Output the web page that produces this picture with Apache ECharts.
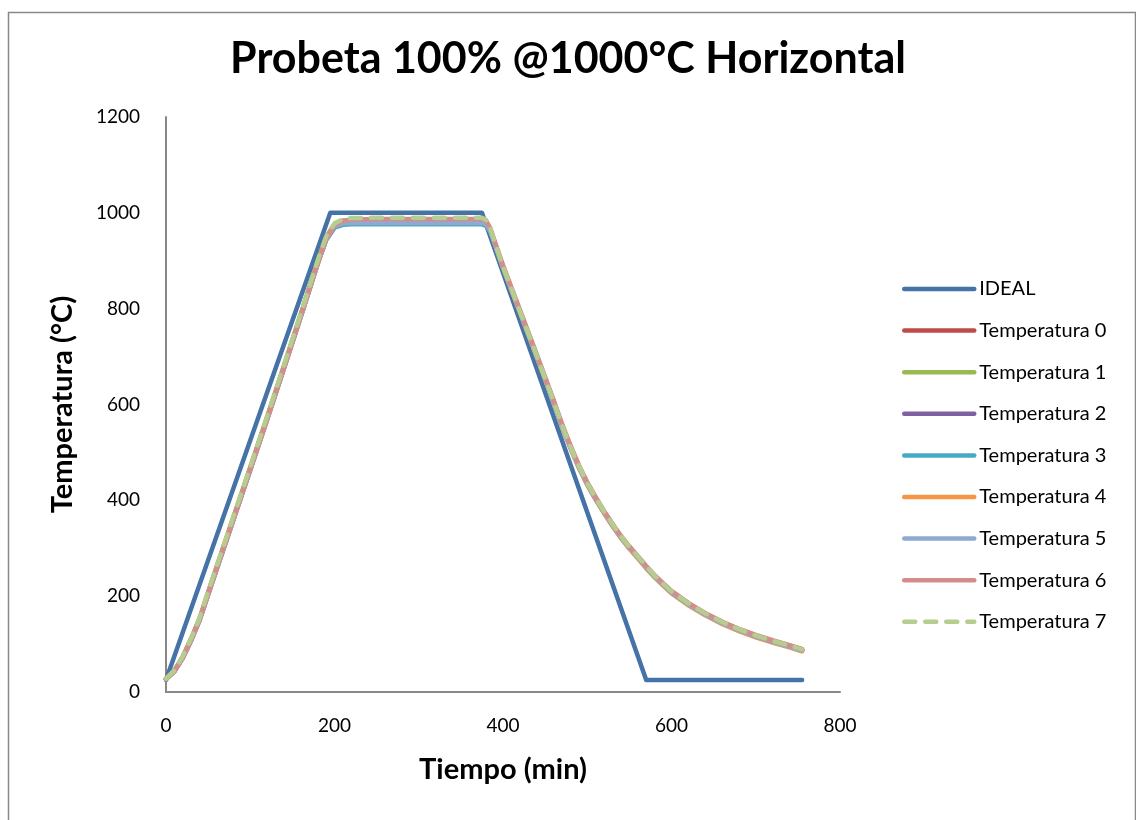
<!DOCTYPE html>
<html>
<head>
<meta charset="utf-8">
<script src="https://cdn.jsdelivr.net/npm/echarts@6/dist/echarts.min.js"></script>
<style>
html,body{margin:0;padding:0;background:#fff;}
#chart{width:1136px;height:820px;}
</style>
</head>
<body>
<div id="chart"></div>
<script>
// ---- Data ----
var titleText = 'Probeta 100% @1000°C Horizontal';
var xName = 'Tiempo (min)';
var yName = 'Temperatura (°C)';

var idealTime = [0, 195, 375, 570, 755];
var idealTemp = [25, 1000, 1000, 25, 25];

var time = [0,10,20,30,40,50,60,80,100,120,140,160,180,190,200,210,220,250,300,350,375,380,385,390,400,420,440,460,470,480,490,500,510,520,530,540,550,560,570,580,590,600,620,640,660,680,700,720,740,755];

var temp0 = [27,44,73,111,153,207,259,363,467,572,679,787,897,948,975,981,982,982,982,982,982,979,964,938,887,795,702,607,557,512,471,435,404,376,349,324,302,282,261,242,225,209,184,163,145,130,117,106,96,88];
var temp1 = [28,45,74,112,154,208,261,365,469,574,681,789,899,949,976,984,984,984,984,984,984,980,966,939,888,796,703,608,558,513,472,436,405,377,350,325,303,283,262,243,226,210,185,164,146,131,118,107,97,89];
var temp2 = [27,43,72,109,151,204,256,360,464,569,676,784,894,944,970,976,978,978,978,978,978,975,962,937,886,794,701,606,556,511,470,434,403,375,348,323,301,281,260,241,224,208,183,162,144,129,116,105,95,87];
var temp3 = [27,43,71,108,150,203,255,359,463,568,675,783,893,943,969,975,976,976,976,976,976,973,960,935,885,793,700,605,555,510,469,433,402,374,347,322,300,280,259,240,223,207,182,161,143,128,115,104,94,86];
var temp4 = [28,45,74,112,154,208,260,364,468,573,680,788,898,948,974,979,980,980,980,980,980,977,963,937,885,792,699,604,554,509,468,432,401,373,346,321,299,279,258,239,222,206,181,160,142,127,114,103,93,85];
var temp5 = [27,44,73,110,152,206,258,362,466,571,678,786,896,946,972,978,979,979,979,979,979,976,962,937,886,794,701,606,556,511,470,434,403,375,348,323,301,281,260,241,224,208,183,162,144,129,116,105,95,87];
var temp6 = [27,43,71,108,150,203,255,359,463,568,675,783,893,944,974,983,986,987,987,987,987,983,968,942,891,798,705,610,560,515,474,438,407,378,351,326,304,284,263,244,227,211,186,165,147,132,119,108,98,90];
var temp7 = [28,45,75,113,155,210,262,366,470,575,682,790,900,950,978,987,989,990,990,990,990,985,968,940,888,795,702,607,557,512,472,436,405,377,350,325,303,283,262,243,226,210,185,164,146,131,118,107,97,89];

var seriesNames = ['IDEAL','Temperatura 0','Temperatura 1','Temperatura 2','Temperatura 3','Temperatura 4','Temperatura 5','Temperatura 6','Temperatura 7'];
var seriesColors = ['#4572A7','#BE4B48','#98B954','#7D60A0','#46AAC5','#F69545','#8EA9D2','#D58D8B','#B5CD8F'];
var xTicks = [0, 800, 200];
var yTicks = [0, 1200, 200];

var tempSets = [temp0,temp1,temp2,temp3,temp4,temp5,temp6,temp7];

function pairs(xs, ys){ return xs.map(function(x,i){ return [x, ys[i]]; }); }

var FONT = 'Lato';

var series = [{
  name: seriesNames[0], type: 'line', data: pairs(idealTime, idealTemp),
  symbol: 'none', lineStyle: {color: seriesColors[0], width: 4.5, cap: 'round', join: 'round'},
  itemStyle: {color: seriesColors[0]}
}];
tempSets.forEach(function(arr, i){
  series.push({
    name: seriesNames[i+1], type: 'line', data: pairs(time, arr),
    symbol: 'none', smooth: false,
    lineStyle: {color: seriesColors[i+1], width: 4.5, cap: 'round', join: 'round',
      type: i === 7 ? [11, 10] : 'solid'},
    itemStyle: {color: seriesColors[i+1]}
  });
});

var chart = echarts.init(document.getElementById('chart'), null, {renderer: 'canvas'});
chart.setOption({
  animation: false,
  backgroundColor: '#fff',
  textStyle: {fontFamily: FONT},
  graphic: [{
    type: 'rect', left: 6, top: 10, z: -1,
    shape: {x: 0, y: 0, width: 1127, height: 830},
    style: {fill: 'none', stroke: '#888', lineWidth: 1.5}
  }],
  title: {
    text: titleText, left: 'center', top: 33,
    textStyle: {fontFamily: FONT, fontSize: 43, fontWeight: 'bold', color: '#000'}
  },
  legend: {
    orient: 'vertical', left: 897, top: 274,
    itemWidth: 70, itemHeight: 14, itemGap: 21.6,
    itemStyle: {opacity: 0},
    lineStyle: {width: 4.5, cap: 'round'},
    textStyle: {fontFamily: FONT, fontSize: 20, color: '#000', lineHeight: 20},
    data: seriesNames
  },
  grid: {left: 166, right: 296, top: 117, bottom: 128, containLabel: false},
  xAxis: {
    type: 'value', min: xTicks[0], max: xTicks[1], interval: xTicks[2],
    name: xName, nameLocation: 'middle', nameGap: 63,
    nameTextStyle: {fontFamily: FONT, fontSize: 29, fontWeight: 'bold', color: '#000'},
    axisLine: {show: true, lineStyle: {color: '#888', width: 2}},
    axisTick: {show: false}, splitLine: {show: false},
    axisLabel: {fontFamily: FONT, fontSize: 19, color: '#000', margin: 24,
      formatter: function(v){ return String(v); }}
  },
  yAxis: {
    type: 'value', min: yTicks[0], max: yTicks[1], interval: yTicks[2],
    name: yName, nameLocation: 'middle', nameGap: 89,
    nameTextStyle: {fontFamily: FONT, fontSize: 29, fontWeight: 'bold', color: '#000'},
    axisLine: {show: true, lineStyle: {color: '#888', width: 2}},
    axisTick: {show: false}, splitLine: {show: false},
    axisLabel: {fontFamily: FONT, fontSize: 19, color: '#000', margin: 26,
      formatter: function(v){ return String(v); }}
  },
  series: series
});
</script>
</body>
</html>
